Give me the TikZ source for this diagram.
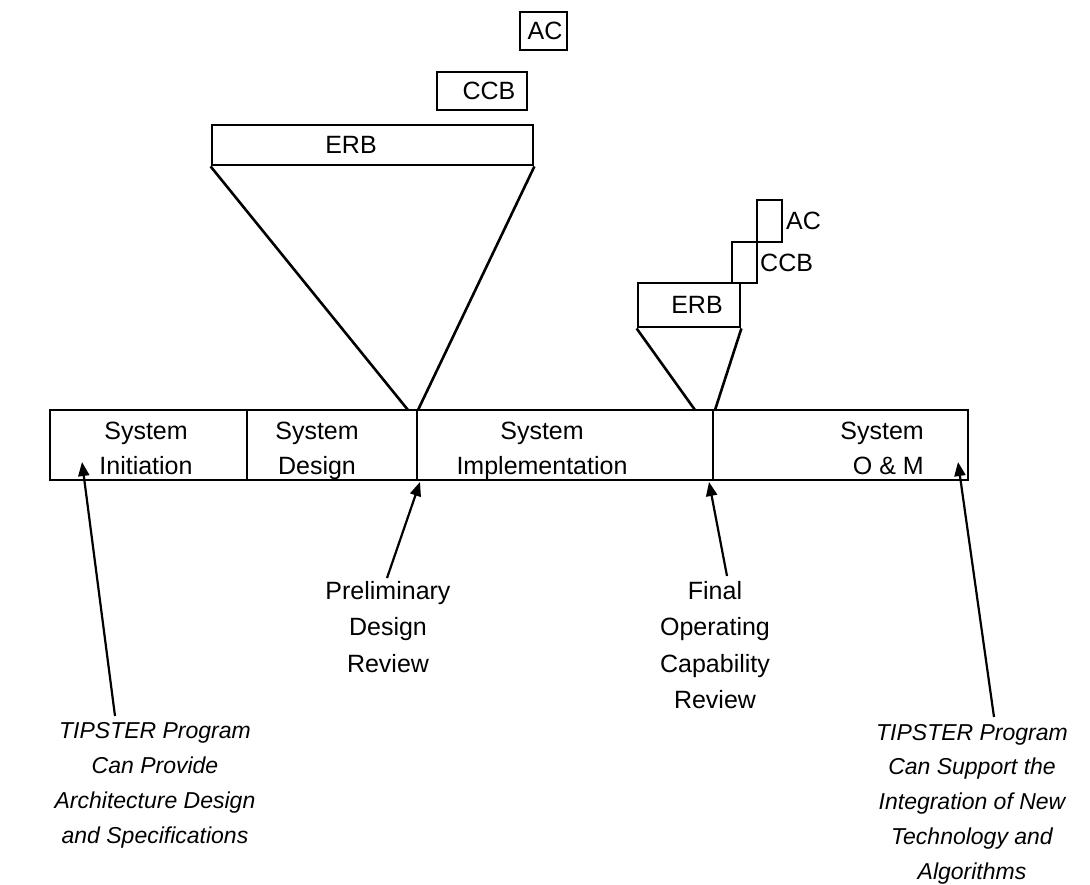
\documentclass[tikz,border=0pt]{standalone}
\usepackage{fontspec}
\setmainfont{Liberation Sans}
\usetikzlibrary{arrows.meta}
\begin{document}
\begin{tikzpicture}[x=1pt,y=-1pt,
  box/.style={draw,line width=2.8pt,inner sep=0pt},
  lbl/.style={font=\fontsize{25}{35}\selectfont,inner sep=0pt},
  phase/.style={font=\fontsize{25}{35}\selectfont,inner sep=0pt,anchor=base,align=center},
  note/.style={font=\fontsize{25}{36.5}\selectfont,inner sep=0pt,anchor=base,align=center},
  tipnote/.style={font=\itshape\fontsize{23}{34.7}\selectfont,inner sep=0pt,anchor=base,align=center},
  ln/.style={line width=2.6pt},
  arr/.style={line width=2.2pt,-{Triangle[length=14pt,width=11pt]}}]
\useasboundingbox (0,0) rectangle (1090,884);

% upper cluster
\node[box,minimum width=47pt,minimum height=38pt] (ac1) at (543.5,31) {};
\node[lbl] (ac1t) at (545,31) {AC};
\node[box,minimum width=90pt,minimum height=38pt] (ccb1) at (482,91) {};
\node[lbl] (ccb1t) at (489,91) {CCB};
\node[box,minimum width=321pt,minimum height=40pt] (erb1) at (372.5,145) {};
\node[lbl] (erb1t) at (351,145) {ERB};

% lower cluster
\node[box,minimum width=25pt,minimum height=42pt] (ac2) at (769.5,221) {};
\node[lbl,anchor=west] (ac2t) at (786,221) {AC};
\node[box,minimum width=25pt,minimum height=41pt] (ccb2) at (744.5,262.5) {};
\node[lbl,anchor=west] (ccb2t) at (760,262.5) {CCB};
\node[box,minimum width=102pt,minimum height=44pt] (erb2) at (689,305) {};
\node[lbl] (erb2t) at (697,305) {ERB};

% timeline
\node[box,minimum width=918pt,minimum height=70pt] (tl) at (509,445) {};
\coordinate (d1a) at (247,410); \coordinate (d1b) at (247,480);
\coordinate (d2a) at (417,410); \coordinate (d2b) at (417,480);
\coordinate (d3a) at (713,410); \coordinate (d3b) at (713,480);
\draw[ln] (d1a) -- (d1b);
\draw[ln] (d2a) -- (d2b);
\draw[ln] (d3a) -- (d3b);

\node[phase] (p1) at (146,474) {System\\Initiation};
\node[phase] (p2) at (317,474) {System\\Design};
\node[phase] (p3) at (542,474) {System\\Implementation};
\node[phase,align=right,anchor=base east] (p4) at (924,474) {System\\O \& M};

% funnels
\coordinate (f1) at (408,410); \coordinate (f2) at (418,410);
\coordinate (f3) at (695,410); \coordinate (f4) at (715,410);
\draw[ln] (erb1.south west) -- (f1);
\draw[ln] (erb1.south east) -- (f2);
\draw[ln] (erb2.south west) -- (f3);
\draw[ln] (erb2.south east) -- (f4);

% milestone notes
\node[note] (pdr) at (388,672) {Preliminary\\Design\\Review};
\node[note] (focr) at (715,708.5) {Final\\Operating\\Capability\\Review};
\node[tipnote] (tipl) at (155,843) {TIPSTER Program\\Can Provide\\Architecture Design\\and Specifications};
\node[tipnote] (tipr) at (972,879) {TIPSTER Program\\Can Support the\\Integration of New\\Technology and\\Algorithms};

% arrows
\coordinate (a1t) at (115,716); \coordinate (a1h) at (82,462);
\coordinate (a2t) at (387,578); \coordinate (a2h) at (420,482);
\coordinate (a3t) at (727,576); \coordinate (a3h) at (709,482);
\coordinate (a4t) at (994,717); \coordinate (a4h) at (958,462);
\draw[arr] (a1t) -- (a1h);
\draw[arr] (a2t) -- (a2h);
\draw[arr] (a3t) -- (a3h);
\draw[arr] (a4t) -- (a4h);
\end{tikzpicture}
\end{document}
